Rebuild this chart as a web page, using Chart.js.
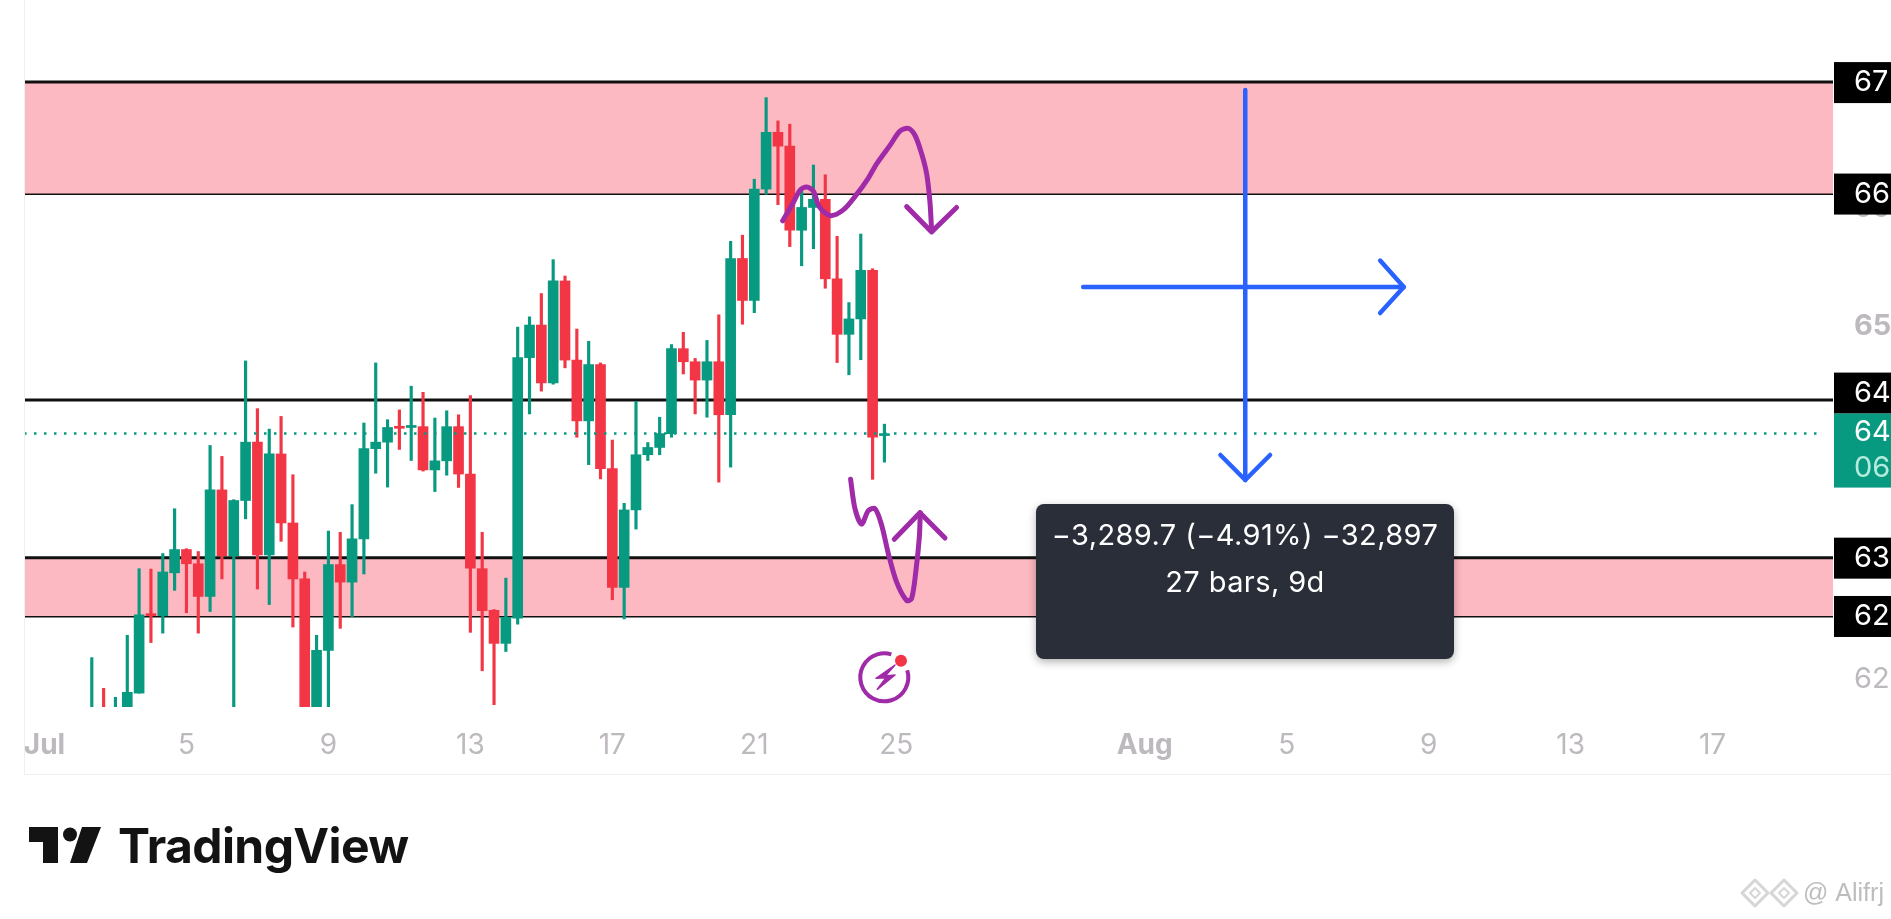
<!DOCTYPE html>
<html>
<head>
<meta charset="utf-8">
<title>TradingView chart</title>
<script src="https://cdn.jsdelivr.net/npm/chart.js@4"></script>
<style>
  html, body { margin: 0; padding: 0; background: #fff; overflow: hidden; }
  canvas { display: block; }
</style>
</head>
<body>
<canvas id="chart" width="1891" height="919"></canvas>
<script>
'use strict';

// bars are 8h apart, index 0 = Jul 1
const barIndex = [4,5,6,7,8,9,10,11,12,13,14,15,16,17,18,19,20,21,22,23,24,25,26,27,28,29,30,31,32,33,34,35,36,37,38,39,40,41,42,43,44,45,46,47,48,49,50,51,52,53,54,55,56,57,58,59,60,61,62,63,64,65,66,67,68,69,70,71];
const opens = [61450,61650,61550,61650,61853,62526,62512,62876,63074,62953,62675,63581,63022,63491,63987,63029,63887,63300,62824,61500,62217,62946,62797,63165,63932,63987,64119,64112,64119,63751,63828,64119,63716,62911,62557,62276,62491,64706,64983,64491,65358,64685,64168,64647,63762,62752,63411,63880,63942,64060,64782,64671,64515,64671,64220,65549,65192,66139,66622,66504,65789,65983,66052,65376,64904,65035,65448,64043];
const closes = [61600,61550,61650,61860,62519,62512,62883,63074,62953,62675,63581,63022,63491,63987,63029,63887,63300,62824,61500,62217,62946,62797,63165,63932,63987,64112,64105,64126,63751,63828,64119,63716,62915,62554,62276,62498,64706,64983,64491,65358,64685,64168,64647,63762,62752,63411,63880,63942,64060,64782,64671,64515,64671,64220,65549,65192,66139,66622,66504,65789,65983,66052,65376,64904,65035,65448,64029,64053];
const highs = [62155,61894,61818,62345,62911,62908,63040,63421,63081,63057,63959,63866,63498,64678,64272,64098,64206,63710,62883,62345,63231,63220,63456,64150,64661,64178,64261,64463,64411,64192,64254,64220,64383,63220,62564,62831,64966,65053,65251,65539,65400,64949,64845,64661,64005,63467,64334,63984,64199,64817,64921,64699,64852,65070,65695,65747,66223,66917,66719,66691,66146,66344,66261,65737,65174,65757,65462,64140];
const lows = [61400,61500,61500,61600,61853,62283,62363,62727,62536,62363,62547,62824,61500,63335,62738,62606,63144,62415,61450,61450,61500,62404,62502,62866,63723,63605,63925,63831,63741,63567,63706,63602,62370,62043,61755,62207,62439,64227,64421,64480,64619,64029,63796,63675,62647,62484,63248,63831,63880,64029,64567,64227,64199,63647,63775,64990,65088,66094,66007,65650,65487,65632,65296,64664,64560,64688,63671,63817];

const xTickIndex = [0,12,24,36,48,60,72,93,105,117,129,141];
const xTickLabels = ['Jul','5','9','13','17','21','25','Aug','5','9','13','17'];
const yTickValues = [66000,65000,64000,63000,62000];
const yTickLabels = ['66','65','64','63','62'];

const xMin = -1.73, xMax = 151.18;
const yMin = 61735, yMax = 67747;

const upperZone = [66101, 67049];
const lowerZone = [62509, 63005];
const midLevel = 64345;
const lastPrice = 64060;
const lastPriceEnd = 150.3;
const levelTags = [[67049,'67'],[66101,'66'],[63005,'63'],[62509,'62']];
const midTag = '64';
const lastTag = ['64','06'];

// measure tool arrows
const measureVertical = [[101.5,66981],[101.5,63665]];
const measureVerticalHead = [[99.4,63878],[101.5,63665],[103.6,63878]];
const measureHorizontal = [[87.8,65306],[114.9,65306]];
const measureHorizontalHead = [[112.9,65531],[114.9,65306],[112.9,65085]];

// hand drawn purple strokes
const sketchTop = [[62.4,65869],[63.3,66025],[63.86,66129],[64.42,66157],[64.99,66122],[65.49,65990],[66.4,65914],[67.52,65962],[68.65,66094],[69.64,66233],[70.34,66354],[71.47,66511],[72.31,66632],[73.02,66656],[73.58,66597],[74.14,66441],[74.57,66268],[74.85,66025],[74.99,65782]];
const sketchTopHead = [[72.88,65990],[74.99,65775],[77.1,65983]];
const sketchBottom = [[68.14,63671],[68.51,63422],[69.07,63290],[69.64,63404],[70.2,63422],[70.76,63283],[71.33,63040],[72.03,62797],[72.88,62641],[73.3,62658],[73.67,62901],[73.95,63179],[74.03,63387]];
const sketchBottomHead = [[71.83,63161],[74.0,63387],[76.12,63172]];

const UP = '#089981', DOWN = '#F23645', PINK = '#FDB9C2', BLUE = '#2962FF', PURPLE = '#A02BA8', GREY = '#BDB9BE';
const FONT = 'Inter, "Liberation Sans", sans-serif';

const barColors = opens.map((o, i) => closes[i] >= o ? UP : DOWN);
const toPoints = (arr) => arr.map((p) => ({ x: p[0], y: p[1] }));
const flat = (y, end) => [{ x: xMin, y: y }, { x: end === undefined ? xMax : end, y: y }];

function lineSet(points, color, width, order, extra) {
    return Object.assign({
        type: 'line', data: points, borderColor: color, backgroundColor: color,
        borderWidth: width, pointRadius: 0, order: order, borderCapStyle: 'round', borderJoinStyle: 'round'
    }, extra || {});
}

function roundBox(ctx, x, y, w, h, r, color) {
    ctx.fillStyle = color;
    ctx.beginPath();
    ctx.roundRect(x, y, w, h, r);
    ctx.fill();
}

function drawTag(ctx, top, height, color, text, textColor) {
    ctx.fillStyle = color;
    ctx.fillRect(1834, top, 57, height);
    ctx.fillStyle = textColor;
    ctx.font = '29px ' + FONT;
    ctx.textAlign = 'left';
    ctx.textBaseline = 'middle';
    ctx.fillText(text, 1854, top + height / 2);
}

const decorPlugin = {
    id: 'decor',
    afterDatasetsDraw(chart) {
        const ctx = chart.ctx;
        const y = chart.scales.y;
        ctx.save();

        // price tags
        levelTags.forEach((t) => {
            const py = y.getPixelForValue(t[0]);
            drawTag(ctx, py - 20, 41, '#000', t[1], '#fff');
        });
        const lastY = y.getPixelForValue(lastPrice);
        drawTag(ctx, lastY - 61, 41, '#000', midTag, '#fff');
        ctx.fillStyle = UP;
        ctx.fillRect(1834, lastY - 20, 57, 74);
        ctx.fillStyle = '#fff';
        ctx.font = '29px ' + FONT;
        ctx.textAlign = 'left';
        ctx.textBaseline = 'middle';
        ctx.fillText(lastTag[0], 1854, lastY - 1);
        ctx.fillStyle = '#B5EBDD';
        ctx.fillText(lastTag[1], 1854, lastY + 35);

        // measure tooltip
        ctx.save();
        ctx.shadowColor = 'rgba(0,0,0,0.3)';
        ctx.shadowBlur = 8;
        ctx.shadowOffsetY = 3;
        roundBox(ctx, 1036, 504, 418, 155, 8, '#2A2E39');
        ctx.restore();
        ctx.fillStyle = '#fff';
        ctx.font = '29px ' + FONT;
        ctx.letterSpacing = '0.4px';
        ctx.textAlign = 'center';
        ctx.textBaseline = 'middle';
        ctx.fillText('\u22123,289.7 (\u22124.91%) \u221232,897', 1245, 536);
        ctx.fillText('27 bars, 9d', 1245, 583);
        ctx.letterSpacing = '0px';

        // alert icon
        ctx.strokeStyle = PURPLE;
        ctx.lineWidth = 4;
        ctx.beginPath();
        ctx.arc(884.3, 677.3, 24, -17 * Math.PI / 180, 287 * Math.PI / 180);
        ctx.stroke();
        ctx.fillStyle = PURPLE;
        ctx.lineWidth = 1.5;
        ctx.lineJoin = 'round';
        ctx.beginPath();
        ctx.moveTo(895, 665); ctx.lineTo(876, 678.3); ctx.lineTo(886, 677.7);
        ctx.lineTo(877.3, 689.3); ctx.lineTo(895, 675); ctx.lineTo(885.3, 676);
        ctx.closePath();
        ctx.fill();
        ctx.stroke();
        ctx.fillStyle = DOWN;
        ctx.beginPath();
        ctx.arc(901, 660.7, 6, 0, 2 * Math.PI);
        ctx.fill();

        // pane border
        ctx.strokeStyle = '#EFEFEF';
        ctx.lineWidth = 1;
        ctx.beginPath();
        ctx.moveTo(24.5, 0); ctx.lineTo(24.5, 774.5); ctx.lineTo(1891, 774.5);
        ctx.stroke();

        // TradingView logo
        ctx.fillStyle = '#131313';
        ctx.beginPath();
        ctx.moveTo(29, 827); ctx.lineTo(58, 827); ctx.lineTo(58, 863);
        ctx.lineTo(43, 863); ctx.lineTo(43, 842); ctx.lineTo(29, 842);
        ctx.closePath();
        ctx.fill();
        ctx.beginPath();
        ctx.arc(70, 834.5, 7, 0, 2 * Math.PI);
        ctx.fill();
        ctx.beginPath();
        ctx.moveTo(82, 827); ctx.lineTo(101, 827); ctx.lineTo(87, 863); ctx.lineTo(70, 863);
        ctx.closePath();
        ctx.fill();
        ctx.font = '700 48px ' + FONT;
        ctx.letterSpacing = '-0.6px';
        ctx.textAlign = 'left';
        ctx.textBaseline = 'alphabetic';
        ctx.fillText('TradingView', 118, 863);
        ctx.letterSpacing = '0px';

        // watermark
        ctx.strokeStyle = '#D6D6D6';
        [1755, 1784].forEach((cx) => {
            ctx.lineWidth = 3;
            ctx.beginPath();
            ctx.moveTo(cx, 880); ctx.lineTo(cx + 13, 893); ctx.lineTo(cx, 906);
            ctx.lineTo(cx - 13, 893); ctx.closePath();
            ctx.stroke();
            ctx.lineWidth = 2;
            ctx.beginPath();
            ctx.moveTo(cx, 888); ctx.lineTo(cx + 5, 893); ctx.lineTo(cx, 898);
            ctx.lineTo(cx - 5, 893); ctx.closePath();
            ctx.stroke();
        });
        ctx.fillStyle = '#BDBDBD';
        ctx.font = '25px "Liberation Sans Narrow", "Liberation Sans", sans-serif';
        ctx.textAlign = 'left';
        ctx.textBaseline = 'middle';
        ctx.fillText('@ Alifrj', 1803, 894);

        ctx.restore();
    }
};

new Chart(document.querySelector('#chart'), {
    type: 'bar',
    data: {
        datasets: [
            // zones and levels
            lineSet(flat(upperZone[1]), '#111', 3, 30, { fill: '+1', backgroundColor: PINK }),
            lineSet(flat(upperZone[0]), '#111', 3, 30),
            lineSet(flat(lowerZone[1]), '#111', 3, 30, { fill: '+1', backgroundColor: PINK }),
            lineSet(flat(lowerZone[0]), '#111', 3, 30),
            lineSet(flat(midLevel), '#111', 3, 30),
            // candles
            {
                label: 'wicks', data: barIndex.map((x, i) => ({ x: x, y: [lows[i], highs[i]] })),
                backgroundColor: barColors, barThickness: 2.5, grouped: false, order: 20
            },
            {
                label: 'bodies', data: barIndex.map((x, i) => ({ x: x, y: [opens[i], closes[i]] })),
                backgroundColor: barColors, barThickness: 10, minBarLength: 2, grouped: false, order: 19
            },
            // last price
            lineSet(flat(lastPrice, lastPriceEnd), UP, 2.5, 10, { borderDash: [2.5, 7.5], borderCapStyle: 'butt' }),
            // measure arrows
            lineSet(toPoints(measureVertical), BLUE, 4.5, 5),
            lineSet(toPoints(measureVerticalHead), BLUE, 4.5, 5),
            lineSet(toPoints(measureHorizontal), BLUE, 4.5, 5),
            lineSet(toPoints(measureHorizontalHead), BLUE, 4.5, 5),
            // sketches
            lineSet(toPoints(sketchTop), PURPLE, 5, 4, { tension: 0.3 }),
            lineSet(toPoints(sketchTopHead), PURPLE, 5, 4),
            lineSet(toPoints(sketchBottom), PURPLE, 5, 4, { tension: 0.3 }),
            lineSet(toPoints(sketchBottomHead), PURPLE, 5, 4)
        ]
    },
    options: {
        responsive: false,
        animation: false,
        devicePixelRatio: 1,
        layout: { autoPadding: false, padding: { left: 24, right: 0, top: 0, bottom: 145 } },
        plugins: { legend: { display: false }, tooltip: { enabled: false } },
        scales: {
            x: {
                type: 'linear', min: xMin, max: xMax, offset: false,
                grid: { display: false, drawTicks: false }, border: { display: false },
                afterBuildTicks: (s) => { s.ticks = xTickIndex.map((v) => ({ value: v })); },
                afterFit: (s) => { s.height = 67; s.paddingLeft = 0; s.paddingRight = 0; },
                ticks: {
                    autoSkip: false, maxRotation: 0, padding: 22, color: GREY,
                    font: (c) => ({ family: FONT, size: 28, weight: /[A-Z]/.test(xTickLabels[c.index] || '') ? '700' : '400' }),
                    callback: (v, i) => xTickLabels[i]
                }
            },
            y: {
                type: 'linear', position: 'right', min: yMin, max: yMax,
                grid: { display: false, drawTicks: false }, border: { display: false },
                afterBuildTicks: (s) => { s.ticks = yTickValues.map((v) => ({ value: v })); },
                afterFit: (s) => { s.width = 58; s.paddingTop = 0; s.paddingBottom = 0; },
                ticks: {
                    autoSkip: false, padding: 21, labelOffset: 3, color: GREY,
                    font: (c) => ({ family: FONT, size: 29, weight: yTickLabels[c.index] === '65' ? '700' : '400' }),
                    callback: (v, i) => yTickLabels[i]
                }
            }
        }
    },
    plugins: [decorPlugin]
});
</script>
</body>
</html>
